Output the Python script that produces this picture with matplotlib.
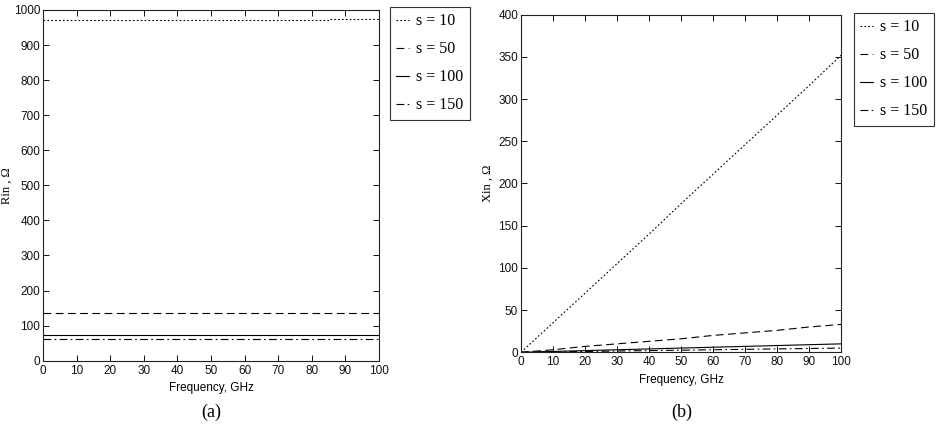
import matplotlib
matplotlib.use("Agg")
import matplotlib.pyplot as plt

freq = [0, 10, 20, 30, 40, 50, 60, 70, 80, 90, 100]
labels = ["s = 10", "s = 50", "s = 100", "s = 150"]

# (a) Input resistance Rin, Ohm
rin_s10 = [970, 970, 970, 970, 972, 972, 972, 972, 972, 975, 975]
rin_s50 = [135, 135, 135, 135, 135, 135, 135, 135, 135, 135, 135]
rin_s100 = [73, 73, 73, 73, 73, 73, 73, 73, 73, 73, 73]
rin_s150 = [63, 63, 63, 63, 63, 63, 63, 63, 63, 63, 63]

# (b) Input reactance Xin, Ohm
xin_s10 = [0, 35, 70, 105, 140, 176, 211, 246, 281, 316, 352]
xin_s50 = [0, 3, 7, 10, 13, 16, 20, 23, 26, 30, 33]
xin_s100 = [0, 1, 2, 3, 4, 5, 6, 7, 8, 9, 10]
xin_s150 = [0, 0.5, 1, 1.5, 2, 2.5, 3, 3.5, 4, 4.5, 5]

xticks = [0, 10, 20, 30, 40, 50, 60, 70, 80, 90, 100]
yticks_a = [0, 100, 200, 300, 400, 500, 600, 700, 800, 900, 1000]
yticks_b = [0, 50, 100, 150, 200, 250, 300, 350, 400]

tick_font = ["Liberation Sans Narrow", "Liberation Sans", "DejaVu Sans"]
serif_font = ["Liberation Serif", "DejaVu Serif"]

styles = [
    dict(linestyle=(0, (1.5, 2)), linewidth=0.8),
    dict(linestyle=(0, (7, 4)), linewidth=0.8),
    dict(linestyle="-", linewidth=0.8),
    dict(linestyle=(0, (7, 3, 1.5, 3)), linewidth=0.8),
]

fig = plt.figure(figsize=(9.36, 4.32), dpi=100)
ax1 = fig.add_axes([0.0459, 0.165, 0.359, 0.812])
ax2 = fig.add_axes([0.5566, 0.1845, 0.342, 0.7815])


def style_axes(ax, yticks, ylim, ylabel, ylab_x):
    ax.set_xlim(0, 100)
    ax.set_ylim(*ylim)
    ax.set_xticks(xticks)
    ax.set_yticks(yticks)
    ax.tick_params(direction="in", top=True, right=True, length=4, width=0.7,
                   labelsize=8.5, colors="#111111", pad=3)
    ax.tick_params(axis="y", pad=2)
    for lab in ax.get_xticklabels() + ax.get_yticklabels():
        lab.set_family(tick_font)
    for sp in ax.spines.values():
        sp.set_linewidth(0.8)
        sp.set_color("#222222")
    ax.set_xlabel("Frequency, GHz", fontsize=8.5, family=tick_font, labelpad=4)
    ax.set_ylabel(ylabel, fontsize=9, family=serif_font)
    ax.yaxis.set_label_coords(ylab_x, 0.5)


series_a = [rin_s10, rin_s50, rin_s100, rin_s150]
series_b = [xin_s10, xin_s50, xin_s100, xin_s150]

lines_a = []
for i, (vals, lab, st) in enumerate(zip(series_a, labels, styles)):
    ds = "steps-mid" if i == 0 else "default"
    (ln,) = ax1.plot(freq, vals, color="black", label=lab, drawstyle=ds, **st)
    lines_a.append(ln)
lines_b = []
for vals, lab, st in zip(series_b, labels, styles):
    (ln,) = ax2.plot(freq, vals, color="black", label=lab, **st)
    lines_b.append(ln)

style_axes(ax1, yticks_a, (0, 1000), "Rin , Ω", -0.09)
style_axes(ax2, yticks_b, (0, 400), "Xin , Ω", -0.085)

leg_kw = dict(loc="upper left", handlelength=0.8, handletextpad=0.45,
              labelspacing=0.75, borderpad=0.4, borderaxespad=0.0,
              fancybox=False, framealpha=1, edgecolor="#333333",
              prop={"family": serif_font, "size": 11.5})
l1 = fig.legend(lines_a, labels, bbox_to_anchor=(0.4167, 0.984), **leg_kw)
l2 = fig.legend(lines_b, labels, bbox_to_anchor=(0.912, 0.970), **leg_kw)
for l in (l1, l2):
    l.get_frame().set_linewidth(0.8)

fig.text(0.2255, 0.046, "(a)", ha="center", va="center", fontsize=13, family=serif_font)
fig.text(0.7287, 0.046, "(b)", ha="center", va="center", fontsize=13, family=serif_font)

fig.savefig("out.png", dpi=100)
